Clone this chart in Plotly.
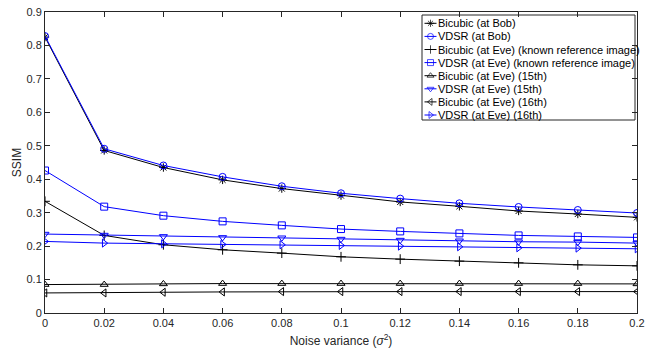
import plotly.graph_objects as go

x_vals = [0, 0.02, 0.04, 0.06, 0.08, 0.10, 0.12, 0.14, 0.16, 0.18, 0.20]

bicubic_bob = [0.825, 0.486, 0.435, 0.398, 0.372, 0.351, 0.332, 0.319, 0.305, 0.296, 0.286]
vdsr_bob = [0.828, 0.491, 0.441, 0.407, 0.379, 0.358, 0.342, 0.328, 0.317, 0.308, 0.299]
bicubic_eve_known = [0.334, 0.232, 0.204, 0.189, 0.179, 0.168, 0.161, 0.155, 0.150, 0.144, 0.141]
vdsr_eve_known = [0.426, 0.318, 0.291, 0.274, 0.262, 0.251, 0.244, 0.238, 0.232, 0.229, 0.226]
bicubic_eve_15 = [0.085, 0.085, 0.087, 0.088, 0.088, 0.088, 0.088, 0.088, 0.088, 0.088, 0.087]
vdsr_eve_15 = [0.236, 0.233, 0.229, 0.226, 0.225, 0.221, 0.218, 0.216, 0.213, 0.212, 0.209]
bicubic_eve_16 = [0.060, 0.060, 0.062, 0.063, 0.064, 0.064, 0.064, 0.064, 0.064, 0.064, 0.064]
vdsr_eve_16 = [0.214, 0.209, 0.207, 0.205, 0.204, 0.202, 0.200, 0.198, 0.195, 0.194, 0.192]

x_ticks = [0, 0.02, 0.04, 0.06, 0.08, 0.1, 0.12, 0.14, 0.16, 0.18, 0.2]
x_tick_labels = ["0", "0.02", "0.04", "0.06", "0.08", "0.1", "0.12", "0.14", "0.16", "0.18", "0.2"]

series = [
    ("Bicubic (at Bob)", bicubic_bob, "black", "asterisk-open"),
    ("VDSR (at Bob)", vdsr_bob, "#0000FF", "circle-open"),
    ("Bicubic (at Eve) (known reference image)", bicubic_eve_known, "black", "cross-thin-open"),
    ("VDSR (at Eve) (known reference image)", vdsr_eve_known, "#0000FF", "square-open"),
    ("Bicubic (at Eve) (15th)", bicubic_eve_15, "black", "triangle-up-open"),
    ("VDSR (at Eve) (15th)", vdsr_eve_15, "#0000FF", "triangle-down-open"),
    ("Bicubic (at Eve) (16th)", bicubic_eve_16, "black", "triangle-left-open"),
    ("VDSR (at Eve) (16th)", vdsr_eve_16, "#0000FF", "triangle-right-open"),
]

W, H = 647, 352
ML, MR, MT, MB = 45, 10, 12, 39
FONT = "Liberation Sans, Arial, sans-serif"
AXC = "#262626"

fig = go.Figure()
for name, ys, color, sym in series:
    fig.add_trace(go.Scatter(
        x=x_vals, y=ys, name=name, mode="lines+markers",
        line=dict(color=color, width=1),
        marker=dict(symbol=sym, size=7, color=color, line=dict(width=1, color=color)),
        showlegend=False,
    ))

# --- custom compact legend (MATLAB style), drawn in a pixel-based overlay axis ---
LX0, LX1, LY0, LY1 = 422, 635, 15, 120
row0, row_h = 23.3, 13.1
fig.add_trace(go.Scatter(
    x=[LX0, LX1, LX1, LX0, LX0], y=[LY0, LY0, LY1, LY1, LY0],
    mode="lines", fill="toself", fillcolor="white",
    line=dict(color=AXC, width=1), xaxis="x2", yaxis="y2",
    showlegend=False, hoverinfo="skip",
))
annotations = []
for i, (name, ys, color, sym) in enumerate(series):
    yy = row0 + row_h * i
    fig.add_trace(go.Scatter(
        x=[424.5, 430.5, 436.5], y=[yy, yy, yy], mode="lines+markers",
        line=dict(color=color, width=1),
        marker=dict(symbol=sym, size=[0, 6, 0], color=color, line=dict(width=1, color=color)),
        xaxis="x2", yaxis="y2", showlegend=False, hoverinfo="skip",
    ))
    annotations.append(dict(
        x=436, y=yy, xref="x2", yref="y2", text=name, showarrow=False,
        xanchor="left", yanchor="middle", font=dict(family=FONT, size=11, color="black"),
    ))

axis_common = dict(
    showline=True, linecolor=AXC, linewidth=1, mirror="ticks",
    ticks="inside", ticklen=5, tickcolor=AXC, tickwidth=1,
    showgrid=False, zeroline=False, automargin=False,
    tickfont=dict(family=FONT, size=11, color=AXC),
)

fig.update_layout(
    width=W, height=H,
    margin=dict(l=ML, r=MR, t=MT, b=MB),
    paper_bgcolor="white", plot_bgcolor="white",
    font=dict(family=FONT, color=AXC),
    xaxis=dict(range=[0, 0.2], tickvals=x_ticks, ticktext=x_tick_labels,
               title=dict(text="Noise variance (<i>σ</i><sup>2</sup>)", font=dict(size=12), standoff=8),
               **axis_common),
    yaxis=dict(range=[0, 0.9], dtick=0.1, tickformat=".1~f",
               title=dict(text="SSIM", font=dict(size=12), standoff=2),
               **axis_common),
    xaxis2=dict(range=[ML, W - MR], overlaying="x", visible=False, fixedrange=True),
    yaxis2=dict(range=[H - MB, MT], overlaying="y", visible=False, fixedrange=True),
    annotations=annotations,
    showlegend=False,
)

fig.write_html("out.html", config={"displayModeBar": False},
               post_script="document.body.style.margin='0px';")
